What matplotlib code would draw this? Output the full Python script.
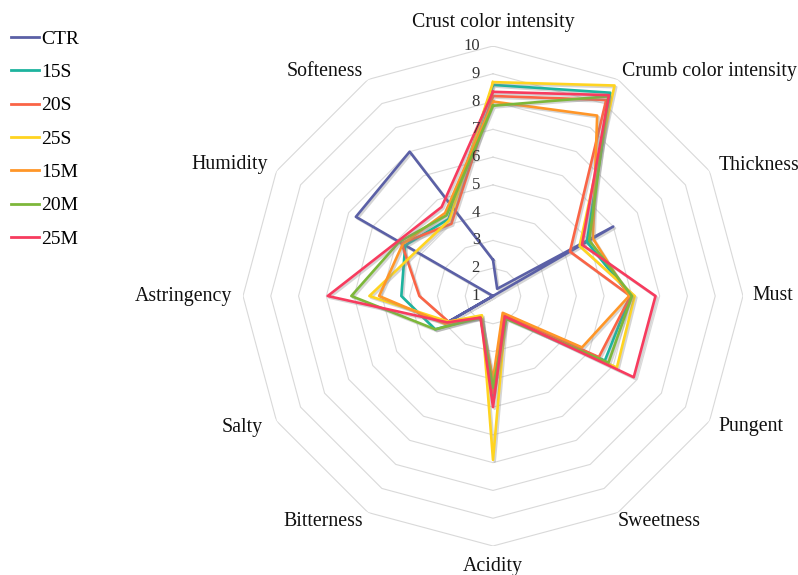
import numpy as np
import matplotlib.pyplot as plt
import matplotlib.patheffects as pe

# Données du radar
categories = ['Crust color intensity', 'Crumb color intensity', 'Thickness', 'Must',
              'Pungent', 'Sweetness', 'Acidity', 'Bitterness', 'Salty',
              'Astringency', 'Humidity', 'Softeness']

series_names = ['CTR', '15S', '20S', '25S', '15M', '20M', '25M']
ctr = [2.3, 1.3, 6.0, 1.0, 1.0, 1.0, 1.0, 1.0, 2.8, 1.0, 6.7, 7.0]
s15 = [8.6, 9.45, 4.9, 5.95, 5.65, 1.8, 4.6, 1.85, 3.4, 4.3, 4.65, 4.2]
s20 = [8.2, 9.15, 4.2, 5.95, 5.4, 1.75, 4.5, 1.85, 2.85, 3.65, 4.8, 4.0]
s25 = [8.7, 9.75, 4.6, 6.1, 6.15, 1.9, 6.9, 1.8, 2.85, 5.45, 4.2, 4.15]
m15 = [8.0, 8.5, 5.15, 5.9, 4.7, 1.7, 4.0, 1.9, 3.0, 5.1, 4.75, 4.45]
m20 = [7.85, 9.3, 5.0, 6.0, 5.8, 1.95, 4.3, 1.9, 3.4, 6.1, 4.9, 4.35]
m25 = [8.35, 9.35, 4.7, 6.85, 6.85, 1.85, 5.0, 1.9, 2.9, 6.95, 4.95, 4.7]

tick_values = [1, 2, 3, 4, 5, 6, 7, 8, 9, 10]

colors = ['#5B60A6', '#1DB39E', '#FA6446', '#FFD420', '#FF9628', '#7DB73A', '#F73B5E']

plt.rcParams['font.family'] = ['Liberation Serif', 'DejaVu Serif']

fig = plt.figure(figsize=(7.98, 5.75), dpi=100)
W, H = 798, 575
cx, cy, R = 493, 296, 250
ax = fig.add_axes([(cx - R) / W, (H - cy - R) / H, 2 * R / W, 2 * R / H], projection='polar')
ax.set_theta_zero_location('N')
ax.set_theta_direction(-1)
ax.set_ylim(1, 10)
ax.axis('off')

n = len(categories)
angles = np.arange(n) * 2 * np.pi / n
closed = np.append(angles, angles[0])

# Grille polygonale
for v in tick_values[1:]:
    ax.plot(closed, [v] * (n + 1), color='#D9D9D9', lw=0.8, zorder=1)

# Séries
shadow = [pe.SimpleLineShadow(offset=(1.2, -1.2), shadow_color='#888888', alpha=0.35),
          pe.Normal()]
all_series = [ctr, s15, s20, s25, m15, m20, m25]
for name, vals, c in zip(series_names, all_series, colors):
    ax.plot(closed, vals + [vals[0]], color=c, lw=1.9, label=name,
            path_effects=shadow, zorder=3)

# Étiquettes des graduations sur l'axe du haut
for v in tick_values:
    ax.annotate(str(v), xy=(0, v), xytext=(-13, 0), textcoords='offset pixels',
                ha='right', va='center', fontsize=12, color='#333333')

# Étiquettes des catégories
offsets = [(0, 24, 'center'), (4, 8, 'left'), (9, 6, 'left'), (9, 0, 'left'),
           (9, -6, 'left'), (0, -9, 'left'), (0, -21, 'center'), (-5, -9, 'right'),
           (-14, -6, 'right'), (-11, 0, 'right'), (-9, 6, 'right'), (-5, 8, 'right')]
for a, lab, (dx, dy, ha) in zip(angles, categories, offsets):
    ax.annotate(lab, xy=(a, 10), xytext=(dx, dy), textcoords='offset pixels',
                ha=ha, va='center', fontsize=14.3, color='#111111', annotation_clip=False)

leg = fig.legend(loc='upper left', bbox_to_anchor=(11 / W, 1 - 30 / H), frameon=False,
                 fontsize=14, handlelength=1.44, handletextpad=0.12, labelspacing=0.81,
                 borderpad=0, borderaxespad=0)
for line in leg.get_lines():
    line.set_path_effects([])
    line.set_linewidth(2)

fig.savefig('out.png', dpi=100)
